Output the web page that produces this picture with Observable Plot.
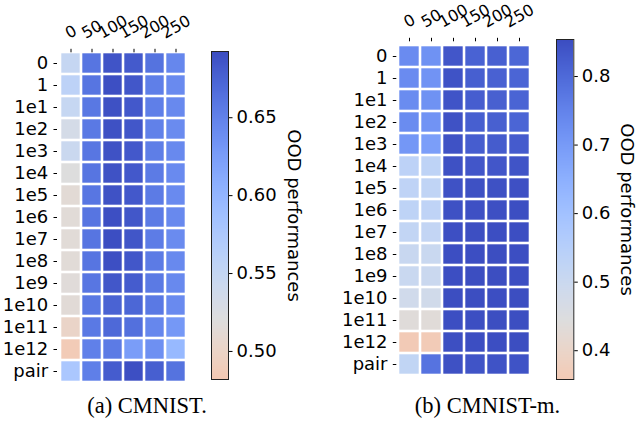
<!DOCTYPE html>
<html><head><meta charset="utf-8">
<script src="https://cdn.jsdelivr.net/npm/d3@7"></script>
<script src="https://cdn.jsdelivr.net/npm/@observablehq/plot@0.6"></script>
<style>
body{margin:0;background:#fff;}
#wrap{position:relative;width:637px;height:423px;overflow:hidden;font-family:"DejaVu Sans";}
#wrap svg{position:absolute;top:0;overflow:visible;}
.cap{position:absolute;font-family:"Liberation Serif";font-size:22.5px;line-height:22.5px;transform:translateX(-50%);white-space:nowrap;color:#000;}
</style></head><body><div id="wrap"></div>
<script>
const rows = ["0","1","1e1","1e2","1e3","1e4","1e5","1e6","1e7","1e8","1e9","1e10","1e11","1e12","pair"];
const cols = ["0","50","100","150","200","250"];

// (a) CMNIST — rows x cols
const cmnist = [
  [0.549,0.660,0.686,0.682,0.662,0.645],
  [0.558,0.660,0.690,0.684,0.652,0.642],
  [0.548,0.658,0.689,0.683,0.652,0.643],
  [0.532,0.657,0.689,0.684,0.650,0.641],
  [0.544,0.659,0.688,0.683,0.653,0.643],
  [0.520,0.660,0.688,0.683,0.655,0.642],
  [0.513,0.659,0.688,0.683,0.655,0.642],
  [0.515,0.660,0.690,0.684,0.655,0.643],
  [0.515,0.660,0.691,0.685,0.654,0.641],
  [0.515,0.660,0.690,0.684,0.655,0.643],
  [0.516,0.659,0.684,0.680,0.656,0.643],
  [0.514,0.658,0.675,0.672,0.657,0.642],
  [0.501,0.657,0.670,0.664,0.645,0.630],
  [0.486,0.651,0.655,0.625,0.637,0.596],
  [0.577,0.652,0.680,0.690,0.678,0.662]
];
// (b) CMNIST-m — rows x cols
const cmnistM = [
  [0.731,0.718,0.835,0.813,0.817,0.805],
  [0.731,0.714,0.842,0.820,0.815,0.808],
  [0.730,0.718,0.840,0.822,0.818,0.810],
  [0.730,0.714,0.843,0.820,0.818,0.808],
  [0.706,0.690,0.843,0.822,0.825,0.826],
  [0.533,0.530,0.845,0.835,0.835,0.840],
  [0.528,0.525,0.843,0.845,0.845,0.846],
  [0.530,0.528,0.845,0.846,0.848,0.850],
  [0.520,0.518,0.848,0.849,0.850,0.850],
  [0.505,0.503,0.850,0.850,0.851,0.850],
  [0.502,0.500,0.850,0.851,0.851,0.850],
  [0.484,0.482,0.851,0.851,0.850,0.851],
  [0.435,0.432,0.850,0.850,0.851,0.851],
  [0.360,0.362,0.849,0.850,0.850,0.851],
  [0.522,0.780,0.845,0.840,0.842,0.842]
];
const cmnistTicks = [0.50,0.55,0.60,0.65];
const cmnistMTicks = [0.4,0.5,0.6,0.7,0.8];
const captions = ["(a) CMNIST.","(b) CMNIST-m."];
const cbarLabel = "OOD performances";

// matplotlib coolwarm stops (Moreland)
const coolwarmStops = ["#3b4cc0","#445acc","#4d68d7","#5775e1","#6282ea","#6c8ef1","#779af7","#82a5fb","#8db0fe","#98b9ff","#a3c2ff","#aec9fd","#b8d0f9","#c2d5f4","#ccd9ee","#d5dbe6","#dddddd","#e5d8d1","#ecd3c5","#f1ccb9","#f5c4ad","#f7bba0","#f7b194","#f7a687","#f49a7b","#f18d6f","#ec7f63","#e57058","#de604d","#d55042","#cb3e38","#c0282f","#b40426"];
const cw = d3.piecewise(d3.interpolateRgb, coolwarmStops);
function colorOpts(vmin, vmax, c) {
  return {type: "linear", domain: [vmin, vmax], clamp: true,
    interpolate: u => {
      const v = vmin + u * (vmax - vmin);
      return cw(Math.max(0, Math.min(1, 0.5 + 0.5 * (c - v) / (vmax - c))));
    }};
}
const toCells = m => m.flatMap((r, i) => r.map((v, j) => ({row: rows[i], col: cols[j], v})));

const wrap = document.getElementById("wrap");
const baseStyle = {fontFamily: "DejaVu Sans", fontSize: "18px", color: "#000", background: "transparent", overflow: "visible"};

function heatmap(values, color, L) {
  const f = 16, ang = 30, rad = ang * Math.PI / 180;
  // half height of the rotated label's ink box, so labels sit bottom-aligned
  const half = n => (((n * 0.636 - 0.1) * f) * Math.sin(rad) + 0.73 * f * Math.cos(rad)) / 2;
  const svg = Plot.plot({
    width: L.w, height: L.h,
    marginLeft: L.ml, marginRight: L.mr, marginTop: L.mt, marginBottom: L.mb,
    style: baseStyle,
    x: {domain: cols, padding: 0},
    y: {domain: rows, padding: 0},
    color,
    marks: [
      Plot.cell(toCells(values), {x: "col", y: "row", fill: "v", inset: 1.3}),
      Plot.axisY({anchor: "left", tickSize: 3.5, tickPadding: 5.8, label: null, fontSize: 18}),
      Plot.axisX({anchor: "top", tickSize: 3.5, tickFormat: () => "", label: null}),
      ...[1, 2, 3].map(n => Plot.text(cols.filter(c => c.length === n), {
        x: d => d, text: d => d, frameAnchor: "top", dy: -(L.gap + half(n)),
        rotate: -ang, textAnchor: "middle", lineAnchor: "middle", fontSize: f
      }))
    ]
  });
  svg.style.left = L.left + "px";
  wrap.appendChild(svg);
}

function colorbar(color, vmin, vmax, ticks, fmt, L) {
  const n = 340;
  const steps = d3.range(n).map(i => ({y1: vmin + i * (vmax - vmin) / n, y2: vmin + (i + 1) * (vmax - vmin) / n}));
  const svg = Plot.plot({
    width: L.w, height: L.h,
    marginLeft: L.ml, marginRight: L.mr, marginTop: L.mt, marginBottom: L.mb,
    style: baseStyle,
    x: {domain: [0, 1], axis: null},
    y: {domain: [vmin, vmax]},
    color,
    marks: [
      Plot.rect(steps, {x1: 0, x2: 1, y1: "y1", y2: "y2", fill: d => (d.y1 + d.y2) / 2, shapeRendering: "crispEdges"}),
      Plot.frame({stroke: "#222", strokeWidth: 1}),
      Plot.axisY({anchor: "right", ticks, tickFormat: d3.format(fmt), tickSize: 3.5, tickPadding: 4.5, label: null, fontSize: 18}),
      Plot.text([cbarLabel], {text: d => d, frameAnchor: "right", dx: L.ldx, rotate: 90, fontSize: 18, textAnchor: "middle", lineAnchor: "middle"})
    ]
  });
  svg.style.left = L.left + "px";
  wrap.appendChild(svg);
}

// Panel (a)
const colA = colorOpts(0.482, 0.6925, 0.52);
heatmap(cmnist, colA, {left: 0, w: 190, h: 385, ml: 57, mr: 2, mt: 51.3, mb: 2.7, gap: 12.5});
colorbar(colA, 0.482, 0.6925, cmnistTicks, ".2f", {left: 200, w: 120, h: 385, ml: 11, mr: 92, mt: 51, mb: 6, ldx: 65.5});

// Panel (b)
const colB = colorOpts(0.358, 0.854, 0.443);
heatmap(cmnistM, colB, {left: 320, w: 215, h: 385, ml: 76.3, mr: 2.7, mt: 40.3, mb: 4.3, gap: 12.5});
colorbar(colB, 0.358, 0.854, cmnistMTicks, ".1f", {left: 540, w: 97, h: 385, ml: 16, mr: 63.7, mt: 39, mb: 6, ldx: 52.5});

// Captions
[[captions[0], 147], [captions[1], 487.5]].forEach(([t, x]) => {
  const d = document.createElement("div");
  d.className = "cap";
  d.textContent = t;
  d.style.left = x + "px";
  d.style.top = "395px";
  wrap.appendChild(d);
});
</script></body></html>
